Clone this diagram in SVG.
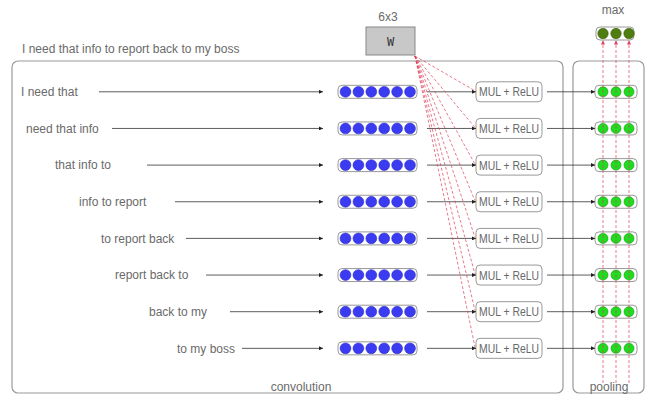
<svg xmlns="http://www.w3.org/2000/svg" width="648" height="397" viewBox="0 0 648 397">
<defs>
<marker id="ah" viewBox="0 0 6 6" refX="6" refY="3" markerWidth="4" markerHeight="4" orient="auto" markerUnits="userSpaceOnUse"><path d="M0,0 L6,3 L0,6 Z" fill="#222"/></marker>
<marker id="rh" viewBox="0 0 6 6" refX="6" refY="3" markerWidth="4" markerHeight="4" orient="auto" markerUnits="userSpaceOnUse"><path d="M0,0 L6,3 L0,6 Z" fill="#e0405a"/></marker>
</defs>
<style>
.t{font-family:"Liberation Sans",Arial,sans-serif;font-size:12px;fill:#6a6a6a}
.m{font-family:"Liberation Sans",Arial,sans-serif;font-size:13px;fill:#6a6a6a}
.frame{fill:none;stroke:#999;stroke-width:1.2}
.vec{fill:#fff;stroke:#999;stroke-width:1}
.mul{fill:#fff;stroke:#999;stroke-width:1}
.b{fill:#3b3bf2;stroke:#2a2ac8;stroke-width:0.6}
.g{fill:#1edc1e;stroke:#129a12;stroke-width:0.6}
.dg{fill:#4f7d10;stroke:#3a5c08;stroke-width:0.6}
.arr{stroke:#333;stroke-width:0.8;fill:none;marker-end:url(#ah)}
.red{stroke:#e0405a;stroke-width:0.7;stroke-dasharray:3 2;fill:none}
</style>
<rect width="648" height="397" fill="#fff"/>

<g id="frames">
<rect class="frame" x="12" y="61" width="551" height="332" rx="6"/>
<rect class="frame" x="573" y="61" width="71" height="332" rx="6"/>
<text class="t" x="22" y="53" font-size="11.5">I need that info to report back to my boss</text>
<text class="t" x="301" y="391" text-anchor="middle">convolution</text>
<text class="t" x="609" y="391" text-anchor="middle">pooling</text>
</g>

<g id="W">
<text class="t" x="388" y="21" text-anchor="middle" font-size="11.5">6x3</text>
<rect x="366" y="27" width="49" height="28" fill="#c8c8c8" stroke="#888" stroke-width="1"/>
<text x="390.5" y="45.5" text-anchor="middle" font-family="DejaVu Sans Mono,monospace" font-size="12" fill="#333">W</text>
</g>

<g id="max">
<text class="t" x="613" y="13.5" text-anchor="middle" font-size="11.5">max</text>
<rect class="vec" x="596" y="27" width="38" height="13" rx="4"/>
<circle class="dg" cx="603" cy="33.5" r="5.2"/>
<circle class="dg" cx="616" cy="33.5" r="5.2"/>
<circle class="dg" cx="629" cy="33.5" r="5.2"/>
</g>

<g id="labels">
<text class="t" x="21" y="96">I need that</text>
<text class="t" x="26" y="132.5">need that info</text>
<text class="t" x="55" y="169">that info to</text>
<text class="t" x="79" y="206">info to report</text>
<text class="t" x="101" y="242.5">to report back</text>
<text class="t" x="115" y="279">report back to</text>
<text class="t" x="149" y="316">back to my</text>
<text class="t" x="177" y="352.5">to my boss</text>
</g>

<g id="row1" transform="translate(0,91.8)">
<rect class="vec" x="338" y="-6.5" width="79" height="13" rx="4"/>
<circle class="b" cx="345.5" cy="0" r="5.4"/><circle class="b" cx="358.4" cy="0" r="5.4"/><circle class="b" cx="371.3" cy="0" r="5.4"/><circle class="b" cx="384.2" cy="0" r="5.4"/><circle class="b" cx="397.1" cy="0" r="5.4"/><circle class="b" cx="410" cy="0" r="5.4"/>
<rect class="mul" x="476" y="-10" width="66" height="20" rx="4"/>
<text class="m" x="509" y="4.6" text-anchor="middle" textLength="60" lengthAdjust="spacingAndGlyphs">MUL + ReLU</text>
<rect class="vec" x="595" y="-6.5" width="42" height="13" rx="4"/>
<circle class="g" cx="603" cy="0" r="5"/><circle class="g" cx="616" cy="0" r="5"/><circle class="g" cx="629" cy="0" r="5"/>
</g>
<g id="row2" transform="translate(0,128.45)">
<rect class="vec" x="338" y="-6.5" width="79" height="13" rx="4"/>
<circle class="b" cx="345.5" cy="0" r="5.4"/><circle class="b" cx="358.4" cy="0" r="5.4"/><circle class="b" cx="371.3" cy="0" r="5.4"/><circle class="b" cx="384.2" cy="0" r="5.4"/><circle class="b" cx="397.1" cy="0" r="5.4"/><circle class="b" cx="410" cy="0" r="5.4"/>
<rect class="mul" x="476" y="-10" width="66" height="20" rx="4"/>
<text class="m" x="509" y="4.6" text-anchor="middle" textLength="60" lengthAdjust="spacingAndGlyphs">MUL + ReLU</text>
<rect class="vec" x="595" y="-6.5" width="42" height="13" rx="4"/>
<circle class="g" cx="603" cy="0" r="5"/><circle class="g" cx="616" cy="0" r="5"/><circle class="g" cx="629" cy="0" r="5"/>
</g>
<g id="row3" transform="translate(0,165.1)">
<rect class="vec" x="338" y="-6.5" width="79" height="13" rx="4"/>
<circle class="b" cx="345.5" cy="0" r="5.4"/><circle class="b" cx="358.4" cy="0" r="5.4"/><circle class="b" cx="371.3" cy="0" r="5.4"/><circle class="b" cx="384.2" cy="0" r="5.4"/><circle class="b" cx="397.1" cy="0" r="5.4"/><circle class="b" cx="410" cy="0" r="5.4"/>
<rect class="mul" x="476" y="-10" width="66" height="20" rx="4"/>
<text class="m" x="509" y="4.6" text-anchor="middle" textLength="60" lengthAdjust="spacingAndGlyphs">MUL + ReLU</text>
<rect class="vec" x="595" y="-6.5" width="42" height="13" rx="4"/>
<circle class="g" cx="603" cy="0" r="5"/><circle class="g" cx="616" cy="0" r="5"/><circle class="g" cx="629" cy="0" r="5"/>
</g>
<g id="row4" transform="translate(0,201.75)">
<rect class="vec" x="338" y="-6.5" width="79" height="13" rx="4"/>
<circle class="b" cx="345.5" cy="0" r="5.4"/><circle class="b" cx="358.4" cy="0" r="5.4"/><circle class="b" cx="371.3" cy="0" r="5.4"/><circle class="b" cx="384.2" cy="0" r="5.4"/><circle class="b" cx="397.1" cy="0" r="5.4"/><circle class="b" cx="410" cy="0" r="5.4"/>
<rect class="mul" x="476" y="-10" width="66" height="20" rx="4"/>
<text class="m" x="509" y="4.6" text-anchor="middle" textLength="60" lengthAdjust="spacingAndGlyphs">MUL + ReLU</text>
<rect class="vec" x="595" y="-6.5" width="42" height="13" rx="4"/>
<circle class="g" cx="603" cy="0" r="5"/><circle class="g" cx="616" cy="0" r="5"/><circle class="g" cx="629" cy="0" r="5"/>
</g>
<g id="row5" transform="translate(0,238.4)">
<rect class="vec" x="338" y="-6.5" width="79" height="13" rx="4"/>
<circle class="b" cx="345.5" cy="0" r="5.4"/><circle class="b" cx="358.4" cy="0" r="5.4"/><circle class="b" cx="371.3" cy="0" r="5.4"/><circle class="b" cx="384.2" cy="0" r="5.4"/><circle class="b" cx="397.1" cy="0" r="5.4"/><circle class="b" cx="410" cy="0" r="5.4"/>
<rect class="mul" x="476" y="-10" width="66" height="20" rx="4"/>
<text class="m" x="509" y="4.6" text-anchor="middle" textLength="60" lengthAdjust="spacingAndGlyphs">MUL + ReLU</text>
<rect class="vec" x="595" y="-6.5" width="42" height="13" rx="4"/>
<circle class="g" cx="603" cy="0" r="5"/><circle class="g" cx="616" cy="0" r="5"/><circle class="g" cx="629" cy="0" r="5"/>
</g>
<g id="row6" transform="translate(0,275.05)">
<rect class="vec" x="338" y="-6.5" width="79" height="13" rx="4"/>
<circle class="b" cx="345.5" cy="0" r="5.4"/><circle class="b" cx="358.4" cy="0" r="5.4"/><circle class="b" cx="371.3" cy="0" r="5.4"/><circle class="b" cx="384.2" cy="0" r="5.4"/><circle class="b" cx="397.1" cy="0" r="5.4"/><circle class="b" cx="410" cy="0" r="5.4"/>
<rect class="mul" x="476" y="-10" width="66" height="20" rx="4"/>
<text class="m" x="509" y="4.6" text-anchor="middle" textLength="60" lengthAdjust="spacingAndGlyphs">MUL + ReLU</text>
<rect class="vec" x="595" y="-6.5" width="42" height="13" rx="4"/>
<circle class="g" cx="603" cy="0" r="5"/><circle class="g" cx="616" cy="0" r="5"/><circle class="g" cx="629" cy="0" r="5"/>
</g>
<g id="row7" transform="translate(0,311.7)">
<rect class="vec" x="338" y="-6.5" width="79" height="13" rx="4"/>
<circle class="b" cx="345.5" cy="0" r="5.4"/><circle class="b" cx="358.4" cy="0" r="5.4"/><circle class="b" cx="371.3" cy="0" r="5.4"/><circle class="b" cx="384.2" cy="0" r="5.4"/><circle class="b" cx="397.1" cy="0" r="5.4"/><circle class="b" cx="410" cy="0" r="5.4"/>
<rect class="mul" x="476" y="-10" width="66" height="20" rx="4"/>
<text class="m" x="509" y="4.6" text-anchor="middle" textLength="60" lengthAdjust="spacingAndGlyphs">MUL + ReLU</text>
<rect class="vec" x="595" y="-6.5" width="42" height="13" rx="4"/>
<circle class="g" cx="603" cy="0" r="5"/><circle class="g" cx="616" cy="0" r="5"/><circle class="g" cx="629" cy="0" r="5"/>
</g>
<g id="row8" transform="translate(0,348.35)">
<rect class="vec" x="338" y="-6.5" width="79" height="13" rx="4"/>
<circle class="b" cx="345.5" cy="0" r="5.4"/><circle class="b" cx="358.4" cy="0" r="5.4"/><circle class="b" cx="371.3" cy="0" r="5.4"/><circle class="b" cx="384.2" cy="0" r="5.4"/><circle class="b" cx="397.1" cy="0" r="5.4"/><circle class="b" cx="410" cy="0" r="5.4"/>
<rect class="mul" x="476" y="-10" width="66" height="20" rx="4"/>
<text class="m" x="509" y="4.6" text-anchor="middle" textLength="60" lengthAdjust="spacingAndGlyphs">MUL + ReLU</text>
<rect class="vec" x="595" y="-6.5" width="42" height="13" rx="4"/>
<circle class="g" cx="603" cy="0" r="5"/><circle class="g" cx="616" cy="0" r="5"/><circle class="g" cx="629" cy="0" r="5"/>
</g>

<g id="connectors">
<line class="arr" x1="99" y1="91.8" x2="323" y2="91.8"/>
<line class="arr" x1="112" y1="128.45" x2="323" y2="128.45"/>
<line class="arr" x1="147" y1="165.1" x2="323" y2="165.1"/>
<line class="arr" x1="175" y1="201.75" x2="323" y2="201.75"/>
<line class="arr" x1="186" y1="238.4" x2="323" y2="238.4"/>
<line class="arr" x1="206" y1="275.05" x2="323" y2="275.05"/>
<line class="arr" x1="230" y1="311.7" x2="323" y2="311.7"/>
<line class="arr" x1="242" y1="348.35" x2="323" y2="348.35"/>

<line class="arr" x1="427" y1="91.8" x2="476" y2="91.8"/>
<line class="arr" x1="427" y1="128.45" x2="476" y2="128.45"/>
<line class="arr" x1="427" y1="165.1" x2="476" y2="165.1"/>
<line class="arr" x1="427" y1="201.75" x2="476" y2="201.75"/>
<line class="arr" x1="427" y1="238.4" x2="476" y2="238.4"/>
<line class="arr" x1="427" y1="275.05" x2="476" y2="275.05"/>
<line class="arr" x1="427" y1="311.7" x2="476" y2="311.7"/>
<line class="arr" x1="427" y1="348.35" x2="476" y2="348.35"/>

<line class="arr" x1="547" y1="91.8" x2="595" y2="91.8"/>
<line class="arr" x1="547" y1="128.45" x2="595" y2="128.45"/>
<line class="arr" x1="547" y1="165.1" x2="595" y2="165.1"/>
<line class="arr" x1="547" y1="201.75" x2="595" y2="201.75"/>
<line class="arr" x1="547" y1="238.4" x2="595" y2="238.4"/>
<line class="arr" x1="547" y1="275.05" x2="595" y2="275.05"/>
<line class="arr" x1="547" y1="311.7" x2="595" y2="311.7"/>
<line class="arr" x1="547" y1="348.35" x2="595" y2="348.35"/>

<line class="red" x1="415" y1="56" x2="475" y2="90.8"/>
<line class="red" x1="415" y1="56" x2="475" y2="127.45"/>
<line class="red" x1="415" y1="56" x2="475" y2="164.1"/>
<line class="red" x1="415" y1="56" x2="475" y2="200.75"/>
<line class="red" x1="415" y1="56" x2="475" y2="237.4"/>
<line class="red" x1="415" y1="56" x2="475" y2="274.05"/>
<line class="red" x1="415" y1="56" x2="475" y2="310.7"/>
<line class="red" x1="415" y1="56" x2="475" y2="347.35"/>

<line class="red" x1="603" y1="383" x2="603" y2="40.5" marker-end="url(#rh)"/>
<line class="red" x1="616" y1="383" x2="616" y2="40.5" marker-end="url(#rh)"/>
<line class="red" x1="629" y1="383" x2="629" y2="40.5" marker-end="url(#rh)"/>
</g>
</svg>
